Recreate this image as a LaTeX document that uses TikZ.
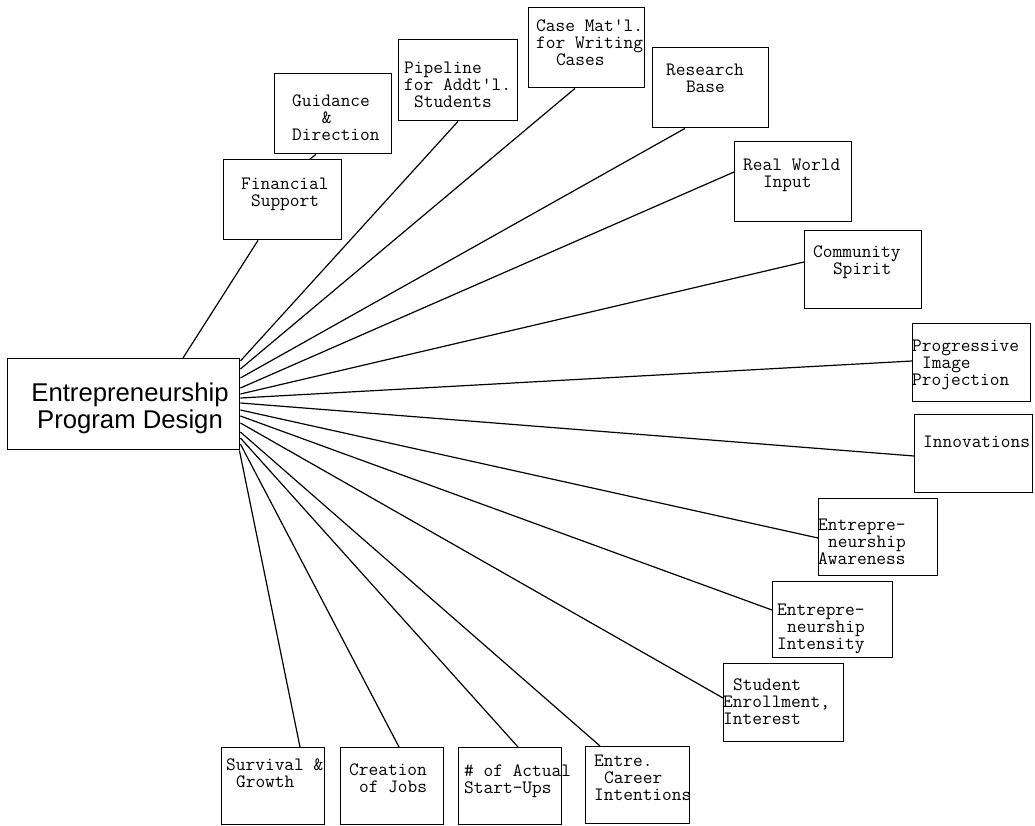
\documentclass[tikz,border=0pt]{standalone}
\usepackage{fontspec}
\setmainfont{Liberation Serif}
\setsansfont{Liberation Sans}
\newdimen\charw \charw=9.9pt
\newcommand\ind[1]{\hspace*{#1\charw}}
\begin{document}
\begin{tikzpicture}[x=1pt,y=-1pt,
  box/.style={draw,line width=1.4pt,rectangle,anchor=north west,inner sep=0pt},
  txt/.style={anchor=north west,inner sep=0pt,align=left,
    font=\ttfamily\fontsize{18.86}{17}\selectfont,
    execute at begin node={\rule{0pt}{12pt}}},
  link/.style={line width=1.2pt},
]
\useasboundingbox (0,0) rectangle (1035,826);

% hub
\node[box,minimum width=232pt,minimum height=91pt] (c) at (7,358) {};
\node[anchor=north,inner sep=0pt,align=center,
  font=\sffamily\fontsize{25.7}{27}\selectfont] (ct) at (130,381)
  {\rule{0pt}{20pt}Entrepreneurship\\Program Design};

% outer boxes
\node[box,minimum width=118pt,minimum height=80pt] (fs) at (223,159) {};
\node[box,minimum width=117pt,minimum height=80pt] (gd) at (274,73) {};
\node[box,minimum width=119pt,minimum height=81pt] (pl) at (398,39) {};
\node[box,minimum width=116pt,minimum height=80pt] (cm) at (528,7) {};
\node[box,minimum width=116pt,minimum height=80pt] (rb) at (652,47) {};
\node[box,minimum width=117pt,minimum height=80pt] (rw) at (734,141) {};
\node[box,minimum width=117pt,minimum height=78pt] (cs) at (804,230) {};
\node[box,minimum width=118pt,minimum height=78pt] (pi) at (912,323) {};
\node[box,minimum width=118pt,minimum height=78pt] (in) at (914,414) {};
\node[box,minimum width=119pt,minimum height=77pt] (ea) at (818,498) {};
\node[box,minimum width=120pt,minimum height=76pt] (ei) at (772,581) {};
\node[box,minimum width=120pt,minimum height=78pt] (se) at (723,663) {};
\node[box,minimum width=104pt,minimum height=77pt] (ec) at (585,746) {};
\node[box,minimum width=103pt,minimum height=77pt] (sa) at (458,747) {};
\node[box,minimum width=103pt,minimum height=77pt] (cj) at (340,747) {};
\node[box,minimum width=103pt,minimum height=77pt] (sg) at (221,747) {};

% labels
\node[txt] (fst) at (241,178) {Financial\\\ind1Support};
\node[txt] (gdt) at (292,95) {Guidance\\\ind3\&\\Direction};
\node[txt] (plt) at (404,62) {Pipeline\\for Addt'l.\\\ind1Students};
\node[txt] (cmt) at (536,20) {Case Mat'l.\\for Writing\\\ind2Cases};
\node[txt] (rbt) at (666,64) {Research\\\ind2Base};
\node[txt] (rwt) at (743,159) {Real World\\\ind2Input};
\node[txt] (cst) at (813,246) {Community\\\ind2Spirit};
\node[txt] (pit) at (912,340) {Progressive\\\ind1Image\\Projection};
\node[txt] (int) at (923,435) {Innovations};
\node[txt] (eat) at (818,519) {Entrepre-\\\ind1neurship\\Awareness};
\node[txt] (eit) at (777,604) {Entrepre-\\\ind1neurship\\Intensity};
\node[txt] (set) at (723,679) {\ind1Student\\Enrollment,\\Interest};
\node[txt] (ect) at (594,755) {Entre.\\\ind1Career\\Intentions};
\node[txt] (sat) at (464,765) {\# of Actual\\Start-Ups};
\node[txt] (cjt) at (349,764) {Creation\\\ind1of Jobs};
\node[txt] (sgt) at (226,759) {Survival \&\\\ind1Growth};

% connectors
\draw[link] ([xshift=176pt]c.north west) -- ([xshift=35pt]fs.south west);
\draw[link] ([xshift=87pt]fs.north west) -- ([xshift=42pt]gd.south west);
\draw[link] ([yshift=-3pt]c.north east) -- ([xshift=60pt]pl.south west);
\draw[link] ([yshift=-11pt]c.north east) -- ([xshift=47pt]cm.south west);
\draw[link] ([yshift=-20pt]c.north east) -- ([xshift=33pt]rb.south west);
\draw[link] ([yshift=-30pt]c.north east) -- ([yshift=-31pt]rw.north west);
\draw[link] ([yshift=-36pt]c.north east) -- ([yshift=-32pt]cs.north west);
\draw[link] ([yshift=-40pt]c.north east) -- ([yshift=-38pt]pi.north west);
\draw[link] ([yshift=-45pt]c.north east) -- ([yshift=-42pt]in.north west);
\draw[link] ([yshift=-52pt]c.north east) -- ([yshift=-40pt]ea.north west);
\draw[link] ([yshift=-58pt]c.north east) -- ([yshift=-29pt]ei.north west);
\draw[link] ([yshift=-65pt]c.north east) -- ([yshift=-35pt]se.north west);
\draw[link] ([yshift=-74pt]c.north east) -- ([xshift=15pt]ec.north west);
\draw[link] ([yshift=-80pt]c.north east) -- ([xshift=60pt]sa.north west);
\draw[link] ([yshift=-86pt]c.north east) -- ([xshift=59pt]cj.north west);
\draw[link] ([xshift=-1pt]c.south east) -- ([xshift=79pt]sg.north west);
\end{tikzpicture}
\end{document}
